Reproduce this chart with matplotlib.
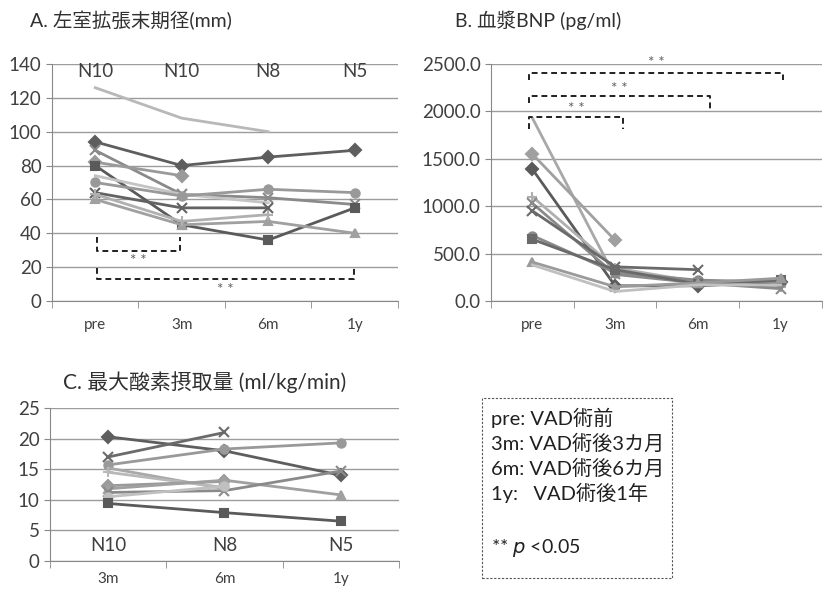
import numpy as np
import matplotlib
matplotlib.use('Agg')
import matplotlib.pyplot as plt
from matplotlib.patches import Rectangle

plt.rcParams['font.family'] = ['Lato', 'Noto Sans CJK JP', 'DejaVu Sans']

nan = np.nan

# A: LV end-diastolic diameter (mm)
cats_a = ['pre', '3m', '6m', '1y']
n_a = ['N10', 'N10', 'N8', 'N5']
lvdd = [
    [126, 108, 100, nan],
    [94, 80, 85, 89],
    [89, 63, 61, 57],
    [82, 74, nan, nan],
    [80, 45, 36, 55],
    [74, 63, 58, nan],
    [70, 62, 66, 64],
    [64, 55, 55, nan],
    [60, 45, 47, 40],
    [63, 47, 51, nan],
]

# B: plasma BNP (pg/ml)
cats_b = ['pre', '3m', '6m', '1y']
bnp = [
    [1930, 250, nan, nan],
    [1550, 640, nan, nan],
    [1390, 160, 160, 200],
    [1100, 350, 200, 150],
    [1030, 280, 190, 130],
    [950, 360, 330, nan],
    [690, 300, 220, 200],
    [650, 330, 180, 220],
    [410, 150, 190, 240],
    [380, 100, 170, 170],
]

# C: peak VO2 (ml/kg/min)
cats_c = ['3m', '6m', '1y']
n_c = ['N10', 'N8', 'N5']
vo2 = [
    [20.3, 18.0, 14.0],
    [17.0, 21.0, nan],
    [15.7, 18.3, 19.3],
    [15.2, 11.8, nan],
    [14.5, 12.0, nan],
    [12.3, 13.0, nan],
    [11.8, 13.2, 10.8],
    [11.2, 11.5, 14.7],
    [10.5, 12.2, nan],
    [9.4, 7.9, 6.5],
]

styles_a = [
    ('#b8b8b8', None),
    ('#5e5e5e', 'D'),
    ('#8a8a8a', 'x'),
    ('#9a9a9a', 'D'),
    ('#5a5a5a', 's'),
    ('#c4c4c4', None),
    ('#999999', 'o'),
    ('#636363', 'x'),
    ('#a0a0a0', '^'),
    ('#b0b0b0', '+'),
]
styles_b = [
    ('#a8a8a8', None),
    ('#a0a0a0', 'D'),
    ('#5a5a5a', 'D'),
    ('#b0b0b0', '+'),
    ('#8a8a8a', 'x'),
    ('#6a6a6a', 'x'),
    ('#8a8a8a', 'o'),
    ('#6a6a6a', 's'),
    ('#9a9a9a', '^'),
    ('#c0c0c0', None),
]
styles_c = [
    ('#5e5e5e', 'D'),
    ('#6a6a6a', 'x'),
    ('#999999', 'o'),
    ('#a8a8a8', None),
    ('#b8b8b8', '+'),
    ('#9a9a9a', 'D'),
    ('#a0a0a0', '^'),
    ('#8a8a8a', 'x'),
    ('#c0c0c0', 'o'),
    ('#5a5a5a', 's'),
]

fig = plt.figure(figsize=(8.25, 5.94), dpi=100)


def excel_axes(ax, ncat, labels, ymax, ystep, fmt=None, xpad=12):
    ax.set_xlim(-0.5, ncat - 0.5)
    ax.set_ylim(0, ymax)
    yt = np.arange(0, ymax + ystep / 2, ystep)
    ax.set_yticks(yt)
    if fmt:
        ax.set_yticklabels([fmt % v for v in yt])
    ax.set_xticks(range(ncat))
    ax.set_xticklabels(labels)
    ax.set_xticks(np.arange(-0.5, ncat, 1), minor=True)
    ax.tick_params(axis='x', which='major', length=0, pad=xpad, labelsize=11, colors='#404040')
    ax.tick_params(axis='x', which='minor', length=5, color='#888888')
    ax.tick_params(axis='y', length=4, color='#888888', labelsize=13.5, colors='#404040')
    ax.yaxis.grid(True, color='#9c9c9c', linewidth=1)
    ax.set_axisbelow(True)
    for s in ['top', 'right']:
        ax.spines[s].set_visible(False)
    ax.spines['left'].set_color('#888888')
    ax.spines['bottom'].set_color('#888888')


def draw_series(ax, data, sty):
    for vals, (c, m) in zip(data, sty):
        ax.plot(range(len(vals)), vals, color=c, lw=2, marker=m,
                ms=7 if m in ('x', '+') else 6, mew=1.5, clip_on=False)


def bracket(ax, x0, x1, y, yl, yr, text_y, col='#202020'):
    ax.plot([x0, x0, x1, x1], [yl, y, y, yr], color=col, lw=1.4, ls=(0, (3, 2)), clip_on=False)
    ax.text((x0 + x1) / 2, text_y, '* *', ha='center', va='center', fontsize=11, color='#606060')


# Panel A
ax_a = fig.add_axes([0.063, 0.4933, 0.4194, 0.399])
excel_axes(ax_a, 4, cats_a, 140, 20)
draw_series(ax_a, lvdd, styles_a)
for i, t in enumerate(n_a):
    ax_a.text(i, 135.5, t, ha='center', va='center', fontsize=13.5, color='#404040')
bracket(ax_a, 0.02, 0.98, 29.5, 37.5, 37.5, 23.5)
bracket(ax_a, 0.02, 2.99, 12.8, 19.7, 19.7, 6.5)
fig.text(0.036, 0.965, 'A. 左室拡張末期径(mm)', fontsize=14, va='center', color='#303030')

# Panel B
ax_b = fig.add_axes([0.5952, 0.4933, 0.401, 0.399])
excel_axes(ax_b, 4, cats_b, 2500, 500, '%.1f')
draw_series(ax_b, bnp, styles_b)
bracket(ax_b, -0.04, 3.03, 2410, 2330, 2330, 2505)
bracket(ax_b, -0.04, 2.15, 2166, 2085, 2025, 2235)
bracket(ax_b, -0.04, 1.1, 1944, 1811, 1811, 2030)
fig.text(0.552, 0.965, 'B. 血漿BNP (pg/ml)', fontsize=14, va='center', color='#303030')

# Panel C
ax_c = fig.add_axes([0.0606, 0.0556, 0.423, 0.2575])
excel_axes(ax_c, 3, cats_c, 25, 5, xpad=8)
draw_series(ax_c, vo2, styles_c)
for i, t in enumerate(n_c):
    ax_c.text(i, 2.5, t, ha='center', va='center', fontsize=13.5, color='#404040')
fig.text(0.076, 0.356, 'C. 最大酸素摂取量 (ml/kg/min)', fontsize=15, va='center', color='#303030')

# note box
fig.patches.append(Rectangle((0.584, 0.027), 0.2305, 0.303, transform=fig.transFigure,
                             fill=False, ls=(0, (2, 1.5)), lw=0.8, edgecolor='#555555'))
notes = ['pre: VAD術前', '3m: VAD術後3カ月', '6m: VAD術後6カ月', '1y:   VAD術後1年']
for k, t in enumerate(notes):
    fig.text(0.595, 0.296 - k * 0.042, t, fontsize=14.5, va='center', color='#202020')
fig.text(0.595, 0.077, '** $p$ <0.05', fontsize=14, va='center', color='#202020')

fig.savefig('out.png', dpi=100)
